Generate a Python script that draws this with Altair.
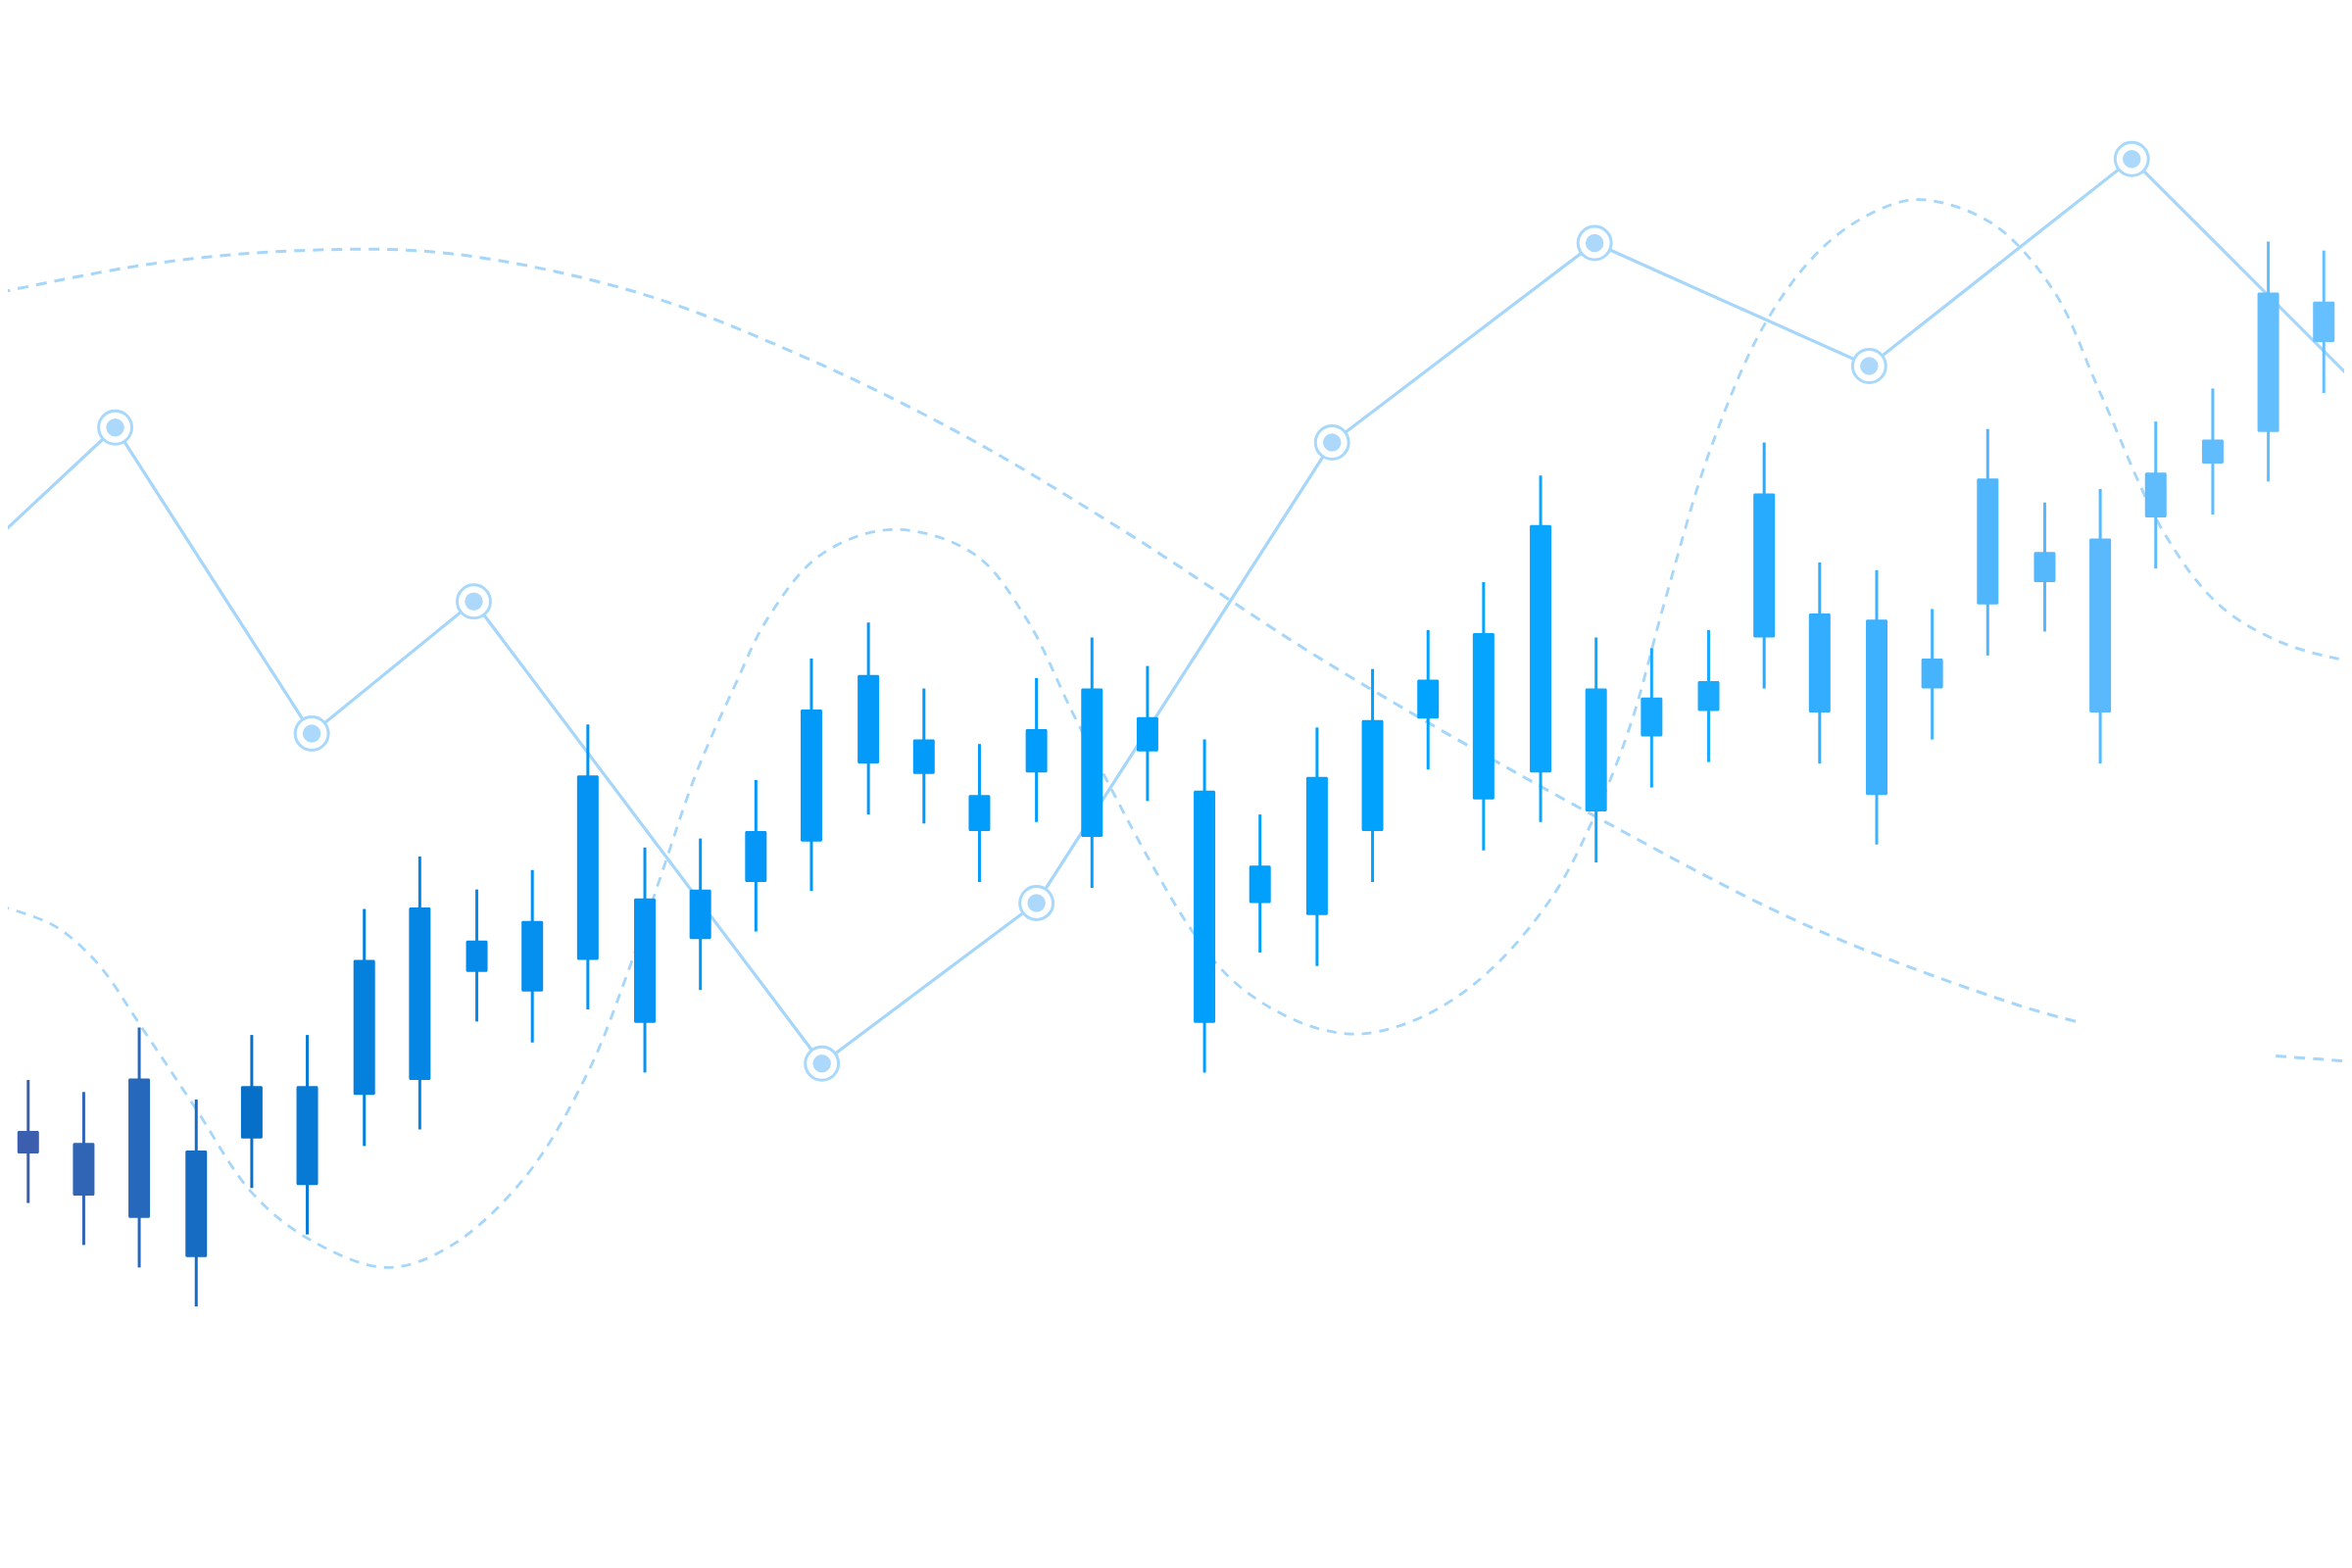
import altair as alt
import pandas as pd

# ---- candles (time unit t, price) ----
candle_t = [1.9, 5.6, 9.3, 13.1, 16.8, 20.5, 24.3, 28.0, 31.8, 35.5, 39.2, 43.0, 46.7, 50.4,
            54.1, 57.9, 61.6, 65.3, 69.1, 72.8, 76.5, 80.3, 84.0, 87.8, 91.5, 95.2, 98.9, 102.7,
            106.4, 110.1, 113.9, 117.6, 121.3, 125.1, 128.8, 132.5, 136.3, 140.0, 143.7, 147.5,
            151.2, 154.9]
candle_high = [32.5, 31.7, 36.0, 31.2, 35.5, 35.5, 43.9, 47.4, 45.2, 46.5, 56.2, 48.0, 48.6, 52.5,
               60.6, 63.0, 58.6, 54.9, 59.3, 62.0, 60.1, 55.2, 50.2, 56.0, 59.9, 62.5, 65.7, 72.8,
               62.0, 61.3, 62.5, 75.0, 67.0, 66.5, 63.9, 75.9, 71.0, 71.9, 76.4, 78.6, 88.4, 87.8]
candle_top = [29.1, 28.3, 32.6, 27.8, 32.1, 32.1, 40.5, 44.0, 41.8, 43.1, 52.8, 44.6, 45.2, 49.1,
              57.2, 59.5, 55.2, 51.5, 55.9, 58.6, 56.7, 51.8, 46.8, 52.7, 56.5, 59.2, 62.3, 69.5,
              58.6, 58.0, 59.1, 71.6, 63.6, 63.2, 60.6, 72.6, 67.7, 68.6, 73.0, 75.2, 85.0, 84.4]
candle_bottom = [27.6, 24.8, 23.3, 20.7, 28.6, 25.5, 31.5, 32.5, 39.7, 38.4, 40.5, 36.3, 41.9, 45.7,
                 48.4, 53.6, 52.9, 49.1, 53.0, 48.7, 54.4, 36.3, 44.3, 43.5, 49.1, 56.6, 51.2, 53.0,
                 50.4, 55.4, 57.1, 62.0, 57.0, 51.5, 58.6, 64.2, 65.7, 57.0, 70.0, 73.6, 75.7, 81.7]
candle_low = [24.3, 21.5, 20.0, 17.4, 25.3, 22.2, 28.1, 29.2, 36.4, 35.0, 37.2, 33.0, 38.5, 42.4,
              45.1, 50.2, 49.6, 45.7, 49.7, 45.3, 51.1, 33.0, 41.0, 40.1, 45.7, 53.2, 47.8, 49.7,
              47.0, 52.0, 53.7, 58.6, 53.6, 48.2, 55.2, 60.8, 62.4, 53.6, 66.6, 70.2, 72.4, 78.3]

# ---- trend line with ring markers ----
trend_t = [0.0, 7.7, 20.8, 31.6, 54.8, 69.1, 88.8, 106.3, 124.6, 142.1, 156.8]
trend_price = [68.8, 76.0, 55.6, 64.4, 33.6, 44.3, 75.0, 88.3, 80.1, 93.9, 79.2]
marker_t = [7.7, 20.8, 31.6, 54.8, 69.1, 88.8, 106.3, 124.6, 142.1]
marker_price = [76.0, 55.6, 64.4, 33.6, 44.3, 75.0, 88.3, 80.1, 93.9]

# ---- long dashed arc (two pieces) ----
arc_t = [0.0, 10.0, 20.0, 30.0, 42.5, 53.4, 64.2, 75.1, 88.5, 106.3, 120.9, 134.5, 138.4,
         151.7, 155.8, 157.0]
arc_price = [85.0, 86.9, 87.8, 87.6, 85.0, 80.8, 75.5, 69.0, 60.3, 50.1, 42.6, 37.5, 36.4,
             34.1, 33.8, 33.7]
arc_piece = ["a"] * 13 + ["b"] * 3

# ---- dashed wave ----
wave_t = [0.0, 3.6, 6.5, 9.4, 13.0, 16.8, 20.6, 25.8, 30.0, 35.0, 39.2, 41.8, 44.1, 46.4, 49.0,
          51.2, 54.7, 59.5, 64.9, 68.4, 71.5, 74.3, 77.0, 79.5, 82.0, 84.9, 88.0, 91.0, 95.0,
          99.1, 103.4, 106.3, 108.7, 111.0, 114.0, 117.7, 121.5, 125.0, 128.0, 132.8, 136.9,
          140.0, 144.3, 147.9, 152.0, 156.3, 157.5]
wave_price = [44.1, 42.8, 40.3, 36.1, 30.7, 25.0, 21.9, 20.0, 21.4, 26.0, 33.0, 39.5, 46.2, 52.9,
              58.8, 63.3, 67.5, 69.2, 67.6, 63.3, 57.0, 51.5, 46.5, 42.4, 39.3, 37.2, 35.9, 35.6,
              36.8, 39.6, 44.6, 50.1, 56.2, 64.5, 74.5, 83.0, 88.0, 90.4, 91.2, 89.6, 85.1,
              78.3, 68.9, 64.2, 61.7, 60.5, 60.4]

candles = pd.DataFrame({"t": candle_t, "high": candle_high, "top": candle_top,
                        "bottom": candle_bottom, "low": candle_low})
trend = pd.DataFrame({"t": trend_t, "price": trend_price})
markers = pd.DataFrame({"t": marker_t, "price": marker_price})
arc = pd.DataFrame({"t": arc_t, "price": arc_price, "piece": arc_piece})
wave = pd.DataFrame({"t": wave_t, "price": wave_price})

xs = alt.Scale(domain=[0.87, 155.93], nice=False, zero=False)
ys = alt.Scale(domain=[1.01, 103.98], nice=False, zero=False)
X = alt.X("t:Q", scale=xs, axis=None)
Y = alt.Y("price:Q", scale=ys, axis=None)

light = "#a6d6fa"

color_scale = alt.Scale(
    domain=[1.9, 9.3, 16.8, 20.5, 28.0, 39.2, 57.9, 95.2, 113.9, 121.3, 132.5, 143.7, 154.9],
    range=["#3b5fae", "#2568bc", "#0670c8", "#067ad5", "#0586e4", "#0593f3", "#039afa",
           "#00a3fe", "#1aa9fe", "#33adff", "#50b6fc", "#5ebbfc", "#66bffe"],
    interpolate="rgb",
)
C = alt.Color("t:Q", scale=color_scale, legend=None)

arc_layer = alt.Chart(arc).mark_line(
    color=light, strokeWidth=3, strokeDash=[11, 8], interpolate="catmull-rom", clip=True
).encode(x=X, y=Y, detail="piece:N")

wave_layer = alt.Chart(wave).mark_line(
    color=light, strokeWidth=2.8, strokeDash=[10, 8], interpolate="catmull-rom", clip=True
).encode(x=X, y=Y)

trend_layer = alt.Chart(trend).mark_line(
    color=light, strokeWidth=3.2, clip=True
).encode(x=X, y=Y)

ring_layer = alt.Chart(markers).mark_point(
    shape="circle", size=1150, filled=True, fill="white", stroke="#a8d8fb", strokeWidth=3,
    opacity=1
).encode(x=X, y=Y)

dot_layer = alt.Chart(markers).mark_point(
    shape="circle", size=340, filled=True, color="#acd8fb", opacity=1
).encode(x=X, y=Y)

wick_layer = alt.Chart(candles).mark_rule(strokeWidth=3, clip=True).encode(
    x=X, y=alt.Y("low:Q", scale=ys, axis=None), y2="high:Q", color=C
)

body_layer = alt.Chart(candles).mark_bar(size=22, cornerRadius=1.5, clip=True).encode(
    x=X, y=alt.Y("bottom:Q", scale=ys, axis=None), y2="top:Q", color=C
)

chart = alt.layer(
    arc_layer, wave_layer, trend_layer, ring_layer, dot_layer, wick_layer, body_layer
).properties(
    width=2384, height=1576, padding=0,
    autosize=alt.AutoSizeParams(type="none"),
    background="white",
).configure_view(strokeWidth=0)

chart.save("out.html", embed_options={"renderer": "svg", "actions": False})
